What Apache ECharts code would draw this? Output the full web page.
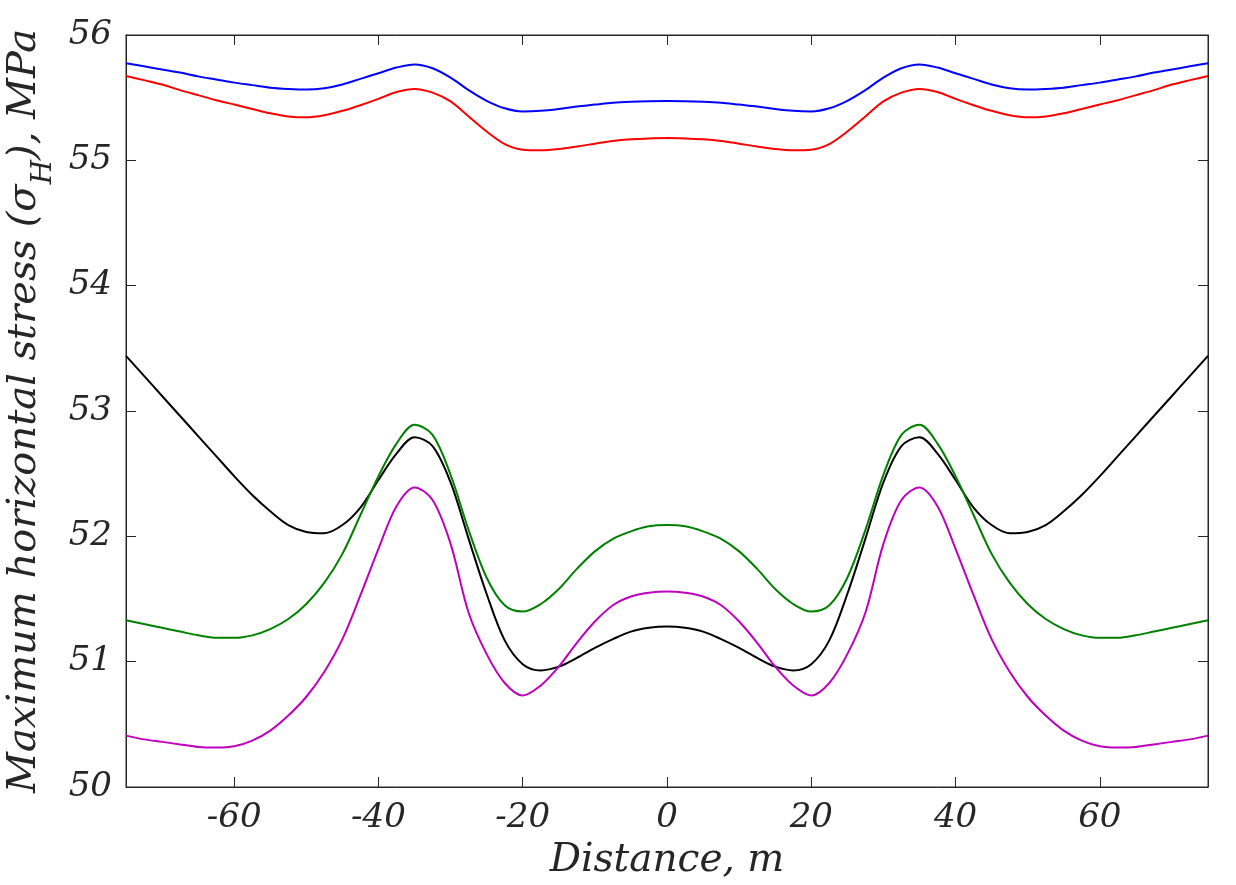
<!DOCTYPE html>
<html>
<head>
<meta charset="utf-8">
<script src="https://cdn.jsdelivr.net/npm/echarts@6/dist/echarts.min.js"></script>
<style>
html,body{margin:0;padding:0;background:#fff;}
#chart{width:1236px;height:885px;}
</style>
</head>
<body>
<div id="chart"></div>
<script>
// distance along the profile, m
var distance = [];
for (var d = -75; d <= 75; d += 2.5) distance.push(d);

var xTicks = [-60, -40, -20, 0, 20, 40, 60];

// stress curves (MPa), -75 ... 75 step 2.5
var blue = [55.775,55.75,55.725,55.70,55.67,55.645,55.62,55.60,55.58,55.57,55.565,55.575,55.605,55.65,55.695,55.74,55.765,55.735,55.66,55.56,55.475,55.415,55.39,55.395,55.41,55.43,55.445,55.46,55.468,55.472,55.473,
  55.472,55.468,55.46,55.445,55.43,55.41,55.395,55.39,55.415,55.475,55.56,55.66,55.735,55.765,55.74,55.695,55.65,55.605,55.575,55.565,55.57,55.58,55.60,55.62,55.645,55.67,55.70,55.725,55.75,55.775];
var red = [55.673,55.64,55.605,55.56,55.52,55.48,55.445,55.41,55.375,55.35,55.343,55.36,55.395,55.44,55.49,55.545,55.57,55.54,55.47,55.35,55.23,55.13,55.085,55.08,55.09,55.11,55.133,55.155,55.168,55.175,55.178,
  55.175,55.168,55.155,55.133,55.11,55.09,55.08,55.085,55.13,55.23,55.35,55.47,55.54,55.57,55.545,55.49,55.44,55.395,55.36,55.343,55.35,55.375,55.41,55.445,55.48,55.52,55.56,55.605,55.64,55.673];
var black = [53.44,53.28,53.12,52.96,52.80,52.64,52.48,52.33,52.20,52.09,52.035,52.025,52.09,52.23,52.45,52.66,52.79,52.72,52.43,51.98,51.54,51.17,50.98,50.93,50.96,51.03,51.11,51.18,51.24,51.27,51.28,
  51.27,51.24,51.18,51.11,51.03,50.96,50.93,50.98,51.17,51.54,51.98,52.43,52.72,52.79,52.66,52.45,52.23,52.09,52.025,52.035,52.09,52.20,52.33,52.48,52.64,52.80,52.96,53.12,53.28,53.44];
var green = [51.33,51.30,51.27,51.24,51.21,51.19,51.19,51.21,51.26,51.34,51.46,51.63,51.86,52.17,52.48,52.74,52.89,52.81,52.49,52.05,51.67,51.45,51.40,51.46,51.58,51.74,51.88,51.98,52.04,52.08,52.09,
  52.08,52.04,51.98,51.88,51.74,51.58,51.46,51.40,51.45,51.67,52.05,52.49,52.81,52.89,52.74,52.48,52.17,51.86,51.63,51.46,51.34,51.26,51.21,51.19,51.19,51.21,51.24,51.27,51.30,51.33];
var magenta = [50.41,50.38,50.36,50.34,50.32,50.315,50.325,50.37,50.45,50.57,50.72,50.92,51.18,51.53,51.90,52.24,52.39,52.29,51.94,51.39,51.06,50.83,50.73,50.81,50.96,51.15,51.32,51.45,51.52,51.55,51.56,
  51.55,51.52,51.45,51.32,51.15,50.96,50.81,50.73,50.83,51.06,51.39,51.94,52.29,52.39,52.24,51.90,51.53,51.18,50.92,50.72,50.57,50.45,50.37,50.325,50.315,50.32,50.34,50.36,50.38,50.41];

function pairs(arr) {
    return distance.map(function (x, i) { return [x, arr[i]]; });
}

var axisColor = '#262626';
var serif = '"DejaVu Serif", "Liberation Serif", serif';

var myChart = echarts.init(document.getElementById('chart'));

function line(name, arr, color) {
    return {
        type: 'line',
        name: name,
        data: pairs(arr),
        smooth: 0.33,
        showSymbol: false,
        symbol: 'none',
        lineStyle: {color: color, width: 2},
        itemStyle: {color: color},
        z: 3
    };
}

var tickStyle = {show: true, inside: true, length: 10, lineStyle: {color: axisColor}};
var lineStyleAxis = {show: true, onZero: false, lineStyle: {color: axisColor, width: 1}};
var labelFont = {fontFamily: serif, fontStyle: 'italic', fontSize: 34, color: axisColor};

myChart.setOption({
    animation: false,
    grid: {left: 126, right: 28, top: 35, bottom: 98, show: true, borderColor: axisColor, borderWidth: 1,
        containLabel: false, outerBoundsMode: 'none'},
    xAxis: [{
        type: 'value',
        min: -75,
        max: 75,
        position: 'bottom',
        name: 'Distance, m',
        nameLocation: 'middle',
        nameGap: 54,
        nameTextStyle: {fontFamily: serif, fontStyle: 'italic', fontSize: 39, color: axisColor},
        axisLine: lineStyleAxis,
        axisTick: Object.assign({customValues: xTicks}, tickStyle),
        axisLabel: Object.assign({customValues: xTicks, margin: 14}, labelFont),
        splitLine: {show: false}
    }, {
        type: 'value',
        min: -75,
        max: 75,
        position: 'top',
        axisLine: lineStyleAxis,
        axisTick: Object.assign({customValues: xTicks}, tickStyle),
        axisLabel: {show: false},
        splitLine: {show: false}
    }],
    yAxis: [{
        type: 'value',
        min: 50,
        max: 56,
        interval: 1,
        position: 'left',
        name: '{n|Maximum horizontal stress (σ}{s|H}{n|), MPa}',
        nameLocation: 'middle',
        nameGap: 80,
        nameTextStyle: {
            color: axisColor,
            rich: {
                n: {fontFamily: serif, fontStyle: 'italic', fontSize: 40, color: axisColor, lineHeight: 46, verticalAlign: 'bottom'},
                s: {fontFamily: serif, fontStyle: 'italic', fontSize: 28, color: axisColor, lineHeight: 46, verticalAlign: 'bottom', padding: [0, 0, -13, 0]}
            }
        },
        axisLine: lineStyleAxis,
        axisTick: tickStyle,
        axisLabel: Object.assign({margin: 14}, labelFont),
        splitLine: {show: false}
    }, {
        type: 'value',
        min: 50,
        max: 56,
        interval: 1,
        position: 'right',
        axisLine: lineStyleAxis,
        axisTick: tickStyle,
        axisLabel: {show: false},
        splitLine: {show: false}
    }],
    series: [
        line('black', black, '#000000'),
        line('green', green, '#008000'),
        line('magenta', magenta, '#bf00bf'),
        line('blue', blue, '#0000ff'),
        line('red', red, '#ff0000')
    ]
});
</script>
</body>
</html>
